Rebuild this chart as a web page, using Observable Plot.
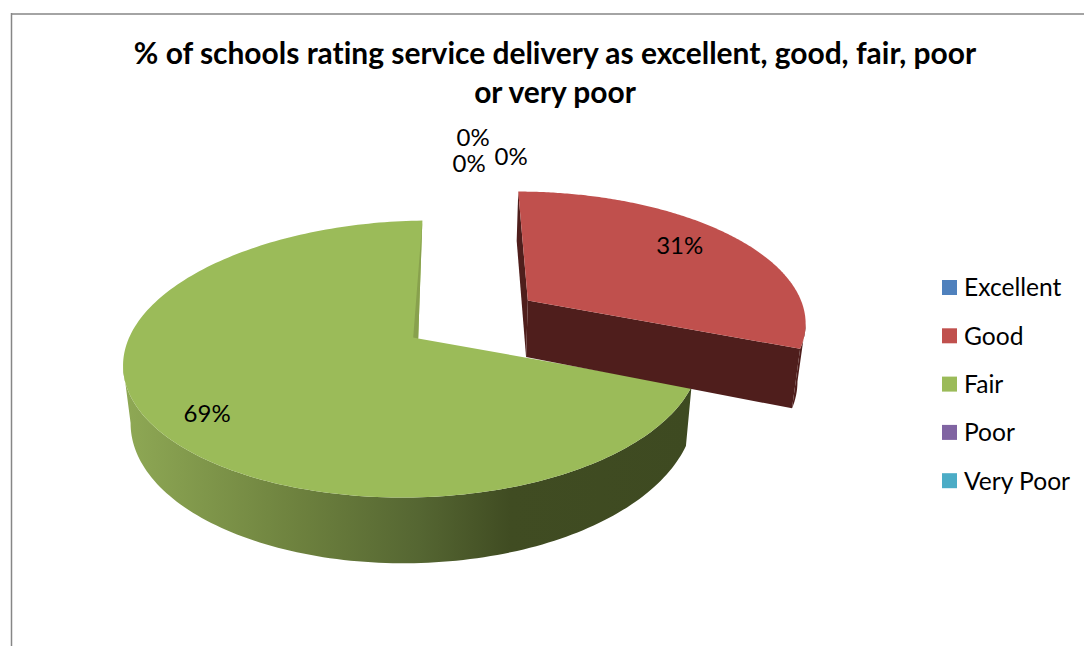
<!DOCTYPE html>
<html>
<head>
<meta charset="utf-8">
<script src="https://cdn.jsdelivr.net/npm/d3@7"></script>
<script src="https://cdn.jsdelivr.net/npm/@observablehq/plot@0.6"></script>
<style>
  html, body { margin: 0; padding: 0; background: #fff; }
  svg text { font-variant-ligatures: none; }
</style>
</head>
<body>
<div id="chart"></div>
<script>
// Survey results
const categories = ["Excellent", "Good", "Fair", "Poor", "Very Poor"];
const shares = [0, 31, 69, 0, 0];
const colors = ["#4f81bd", "#c0504d", "#9bbb59", "#8064a2", "#4bacc6"];
const titleLines = [
  "% of schools rating service delivery as excellent, good, fair, poor",
  "or very poor"
];

// Camera and solid used to project the pie
const view = {vanishX: 450, horizonY: -577, span: 915, depth: 0.148, floorScale: 0.977};
const wedges = {
  Good: {originX: 530.7, shiftV: -0.2925, radius: 285, skew: 0, tilt: 0, thickness: 58.8, wall: "#4f1e1c"},
  Fair: {originX: 417.7, shiftV: 0, radius: 284.6, skew: 0.02, tilt: 0.0045, thickness: 56, wall: "url(#wallShade)"}
};
const fallbackWedge = wedges.Fair;

// Where each percentage sits on its wedge, with a small nudge in pixels
const labelPlacement = {
  Excellent: {frac: 1.2, dx: 88, dy: -43},
  Good: {frac: 0.62, dx: 22, dy: -13},
  Fair: {frac: 0.72, dx: -26, dy: 15},
  Poor: {frac: 1.2, dx: 50, dy: -62},
  "Very Poor": {frac: 1.2, dx: 46, dy: -36}
};

const toAngle = (share) => (share / 100) * 2 * Math.PI;
const cumulative = d3.cumsum(shares);
const slices = categories.map((name, i) => ({
  name,
  share: shares[i],
  color: colors[i],
  start: toAngle(cumulative[i] - shares[i]),
  end: toAngle(cumulative[i])
}));

// Angles run clockwise from the far edge of the disc
function project(w, angle, frac = 1) {
  const u = frac * Math.sin(angle);
  const v = -frac * Math.cos(angle) + w.shiftV;
  const ky = 1 / (1 - view.depth * v + w.tilt * u);
  const kx = 1 / (1 - view.depth * v + w.skew * u);
  const worldX = w.originX + w.radius * u;
  return {x: view.vanishX + (worldX - view.vanishX) * kx, y: view.horizonY + view.span * ky, ky, angle};
}
const floorOf = (w) => (p) => ({
  x: view.vanishX + (p.x - view.vanishX) * view.floorScale,
  y: p.y + w.thickness * p.ky
});
const arc = (w, a0, a1, n = 200) =>
  d3.range(n + 1).map((i) => project(w, a0 + ((a1 - a0) * i) / n));

const wedgeMarks = [];
const polygon = (points, fill) =>
  Plot.line(points, {x: "x", y: "y", fill, stroke: "none", curve: "linear"});

// Fair first, so that the exploded Good wedge overlaps it
for (const name of ["Fair", "Good"]) {
  const s = slices.find((d) => d.name === name);
  const w = wedges[name];
  const floor = floorOf(w);
  const apex = project(w, 0, 0);
  const rimAll = arc(w, s.start, s.end);

  // The outer wall is seen only up to the point where the rim turns away
  const rim = name === "Fair"
    ? rimAll.slice(0, rimAll.indexOf(d3.least(rimAll, (p) => p.x)) + 1)
    : rimAll.slice(rimAll.indexOf(d3.greatest(rimAll, (p) => p.x)));
  wedgeMarks.push(polygon([...rim, ...rim.map(floor).reverse()], w.wall));

  if (name === "Good") {
    const back = project(w, s.start);
    const corner = project(w, s.end);
    wedgeMarks.push(polygon([back, apex, floor(apex), floor(back)], w.wall));
    wedgeMarks.push(polygon([apex, corner, floor(corner), floor(apex)], w.wall));
  }
  wedgeMarks.push(polygon([apex, ...rimAll], s.color));
  if (name === "Fair") {
    const back = project(w, s.end);
    wedgeMarks.push(polygon([back, apex, {x: apex.x - 5, y: apex.y - 1}], "#88a14d"));
  }
}

// Percentage labels
const labels = slices.map((s) => {
  const w = wedges[s.name] || fallbackWedge;
  const place = labelPlacement[s.name];
  const mid = s.share ? (s.start + s.end) / 2 : 0;
  const p = project(w, mid, place.frac);
  return {text: `${s.share}%`, x: p.x + place.dx, y: p.y + place.dy};
});

// Legend rows
const legendRows = categories.map((name, i) => ({
  name,
  top: 280 + i * 48.3
}));

const wallGradient = () => {
  const defs = d3.create("svg:defs");
  const g = defs.append("linearGradient")
    .attr("id", "wallShade")
    .attr("gradientUnits", "userSpaceOnUse")
    .attr("x1", 122).attr("x2", 692).attr("y1", 0).attr("y2", 0);
  [[0, "#8fa955"], [0.31, "#6d813e"], [0.52, "#556632"], [0.68, "#404c22"], [1, "#3e4a21"]]
    .forEach(([o, c]) => g.append("stop").attr("offset", o).attr("stop-color", c));
  return defs.node();
};

const font = "Lato, Carlito, sans-serif";
const chart = Plot.plot({
  width: 1084,
  height: 646,
  margin: 0,
  x: {domain: [0, 1084], range: [0, 1084], axis: null},
  y: {domain: [0, 646], range: [0, 646], axis: null},
  color: {domain: categories, range: colors},
  marks: [
    wallGradient,
    Plot.ruleY([13.5], {x1: 11, x2: 1084, stroke: "#868686", strokeWidth: 1.5}),
    Plot.ruleX([11], {y1: 13, y2: 646, stroke: "#868686", strokeWidth: 1.5}),
    ...wedgeMarks,
    Plot.text(titleLines, {
      x: 554.5, y: (d, i) => 54 + i * 39, text: (d) => d,
      fontFamily: font, fontWeight: 700, fontSize: 29.95, fill: "#000", lineAnchor: "middle", textAnchor: "middle"
    }),
    Plot.text(labels, {
      x: "x", y: "y", text: "text",
      fontFamily: font, fontSize: 24, fill: "#000", lineAnchor: "middle", textAnchor: "middle"
    }),
    Plot.rect(legendRows, {
      x1: 942, x2: 957, y1: "top", y2: (d) => d.top + 15, fill: "name"
    }),
    Plot.text(legendRows, {
      x: 963.5, y: (d) => d.top + 8, text: "name",
      fontFamily: font, fontSize: 24.6, fill: "#000", lineAnchor: "middle", textAnchor: "start"
    })
  ]
});
document.getElementById("chart").append(chart);
</script>
</body>
</html>
